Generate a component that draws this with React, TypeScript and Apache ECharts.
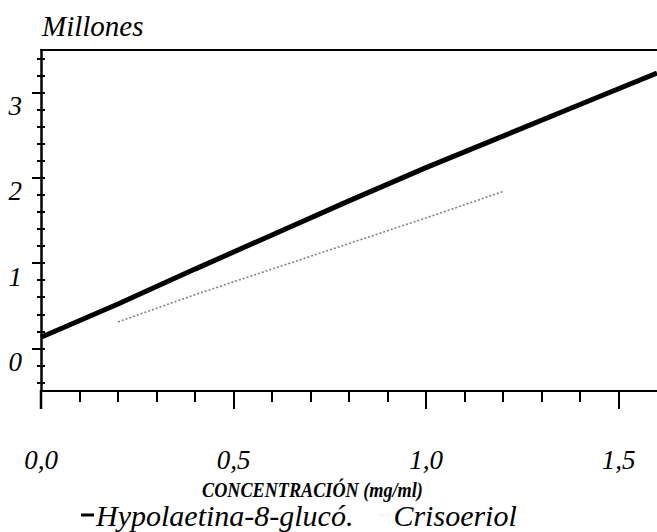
import React, { useEffect, useRef } from "react";
import * as echarts from "echarts";

// Tick / label positions
const xMajorTicks = [0, 0.5, 1.0, 1.5];
const xMinorTicks = [0.1, 0.2, 0.3, 0.4, 0.6, 0.7, 0.8, 0.9, 1.1, 1.2, 1.3, 1.4];
const yMajorTicks = [0, 1, 2, 3];
const yMinorTicks = [-0.4, -0.2, 0.2, 0.4, 0.6, 0.8, 1.2, 1.4, 1.6, 1.8, 2.2, 2.4, 2.6, 2.8, 3.2, 3.4];

// Series: Hypolaetina-8-glucó. (black thick line)
const hypoX = [0, 0.2, 0.4, 0.6, 0.8, 1.0, 1.2, 1.4, 1.6];
const hypoY = [0.13, 0.52, 0.93, 1.33, 1.73, 2.12, 2.49, 2.86, 3.23];

// Series: Crisoeriol (faint grey line)
const crisoX = [0.2, 0.4, 0.6, 0.8, 1.0, 1.2];
const crisoY = [0.31, 0.63, 0.93, 1.23, 1.53, 1.84];

const seriesNames = ["Hypolaetina-8-glucó.", "Crisoeriol"];
const yTitle = "Millones";
const xTitle = "CONCENTRACIÓN (mg/ml)";

const serif = '"Liberation Serif", "Times New Roman", serif';

export default function App() {
  const ref = useRef<HTMLDivElement>(null);

  useEffect(() => {
    if (!ref.current) return;
    const chart = echarts.init(ref.current, undefined, { renderer: "svg" });
    const hide = { show: false };
    chart.setOption({
      animation: false,
      backgroundColor: "#ffffff",
      grid: { left: 41, right: 0, top: 50, bottom: 141, containLabel: false },
      xAxis: [
        {
          type: "value",
          min: 0,
          max: 1.6,
          position: "bottom",
          axisLine: { show: true, onZero: false, lineStyle: { color: "#000", width: 2 } },
          axisTick: { show: true, customValues: xMajorTicks, length: 18, lineStyle: { color: "#000", width: 2 } },
          axisLabel: {
            show: true,
            customValues: xMajorTicks,
            margin: 55,
            color: "#000",
            fontFamily: serif,
            fontStyle: "italic",
            fontSize: 27,
            formatter: (v: number) => v.toFixed(1).replace(".", ","),
          },
          splitLine: hide,
        },
        {
          type: "value",
          min: 0,
          max: 1.6,
          position: "bottom",
          axisLine: { show: false, onZero: false },
          axisTick: { show: true, customValues: xMinorTicks, length: 11, lineStyle: { color: "#000", width: 2 } },
          axisLabel: hide,
          splitLine: hide,
        },
        {
          type: "value",
          min: 0,
          max: 1.6,
          position: "top",
          axisLine: { show: true, onZero: false, lineStyle: { color: "#000", width: 2 } },
          axisTick: hide,
          axisLabel: hide,
          splitLine: hide,
        },
      ],
      yAxis: [
        {
          type: "value",
          min: -0.5,
          max: 3.5,
          position: "left",
          axisLine: { show: true, onZero: false, lineStyle: { color: "#000", width: 2.5 } },
          axisTick: { show: true, customValues: yMajorTicks, length: 9, lineStyle: { color: "#000", width: 2 } },
          axisLabel: {
            show: true,
            customValues: yMajorTicks,
            margin: 19,
            color: "#000",
            fontFamily: serif,
            fontStyle: "italic",
            fontSize: 27,
            verticalAlign: "top",
          },
          splitLine: hide,
        },
        {
          type: "value",
          min: -0.5,
          max: 3.5,
          position: "left",
          axisLine: { show: false, onZero: false },
          axisTick: { show: true, customValues: yMinorTicks, length: 4, lineStyle: { color: "#000", width: 2 } },
          axisLabel: hide,
          splitLine: hide,
        },
        {
          type: "value",
          min: -0.5,
          max: 3.5,
          position: "left",
          axisLine: { show: false, onZero: false },
          axisTick: {
            show: true,
            inside: true,
            customValues: [...yMajorTicks, ...yMinorTicks],
            length: 4,
            lineStyle: { color: "#000", width: 2 },
          },
          axisLabel: hide,
          splitLine: hide,
        },
      ],
      legend: {
        show: true,
        left: 76,
        top: 495,
        itemGap: 25,
        itemWidth: 13,
        itemHeight: 3,
        textStyle: { color: "#000", fontFamily: serif, fontStyle: "italic", fontSize: 30, padding: [0, 0, 0, -3] },
        data: [
          { name: seriesNames[0], icon: "rect", itemStyle: { color: "#000" } },
          { name: seriesNames[1], icon: "rect", itemStyle: { color: "rgba(0,0,0,0.03)" } },
        ],
      },
      graphic: [
        {
          type: "text",
          left: 42,
          top: 11,
          style: { text: yTitle, fill: "#000", font: `italic 29px ${serif}` },
        },
        {
          type: "text",
          x: 202,
          y: 480,
          scaleX: 0.91,
          style: { text: xTitle, fill: "#000", font: `italic bold 20px ${serif}` },
        },
        {
          type: "line",
          shape: { x1: 41, y1: 390, x2: 41, y2: 409 },
          style: { stroke: "#000", lineWidth: 2.5 },
        },
      ],
      series: [
        {
          name: seriesNames[0],
          type: "line",
          xAxisIndex: 0,
          yAxisIndex: 0,
          showSymbol: false,
          symbol: "none",
          lineStyle: { color: "#000", width: 5 },
          itemStyle: { color: "#000" },
          data: hypoX.map((x, i) => [x, hypoY[i]]),
        },
        {
          name: seriesNames[1],
          type: "line",
          xAxisIndex: 0,
          yAxisIndex: 0,
          showSymbol: false,
          symbol: "none",
          lineStyle: { color: "#555", width: 1.6, type: [2, 2], opacity: 0.75 },
          itemStyle: { color: "#555" },
          data: crisoX.map((x, i) => [x, crisoY[i]]),
        },
      ],
    });
    return () => chart.dispose();
  }, []);

  return (
    <div
      ref={ref}
      style={{ position: "fixed", left: 0, top: 0, width: 657, height: 532, background: "#fff" }}
    />
  );
}
